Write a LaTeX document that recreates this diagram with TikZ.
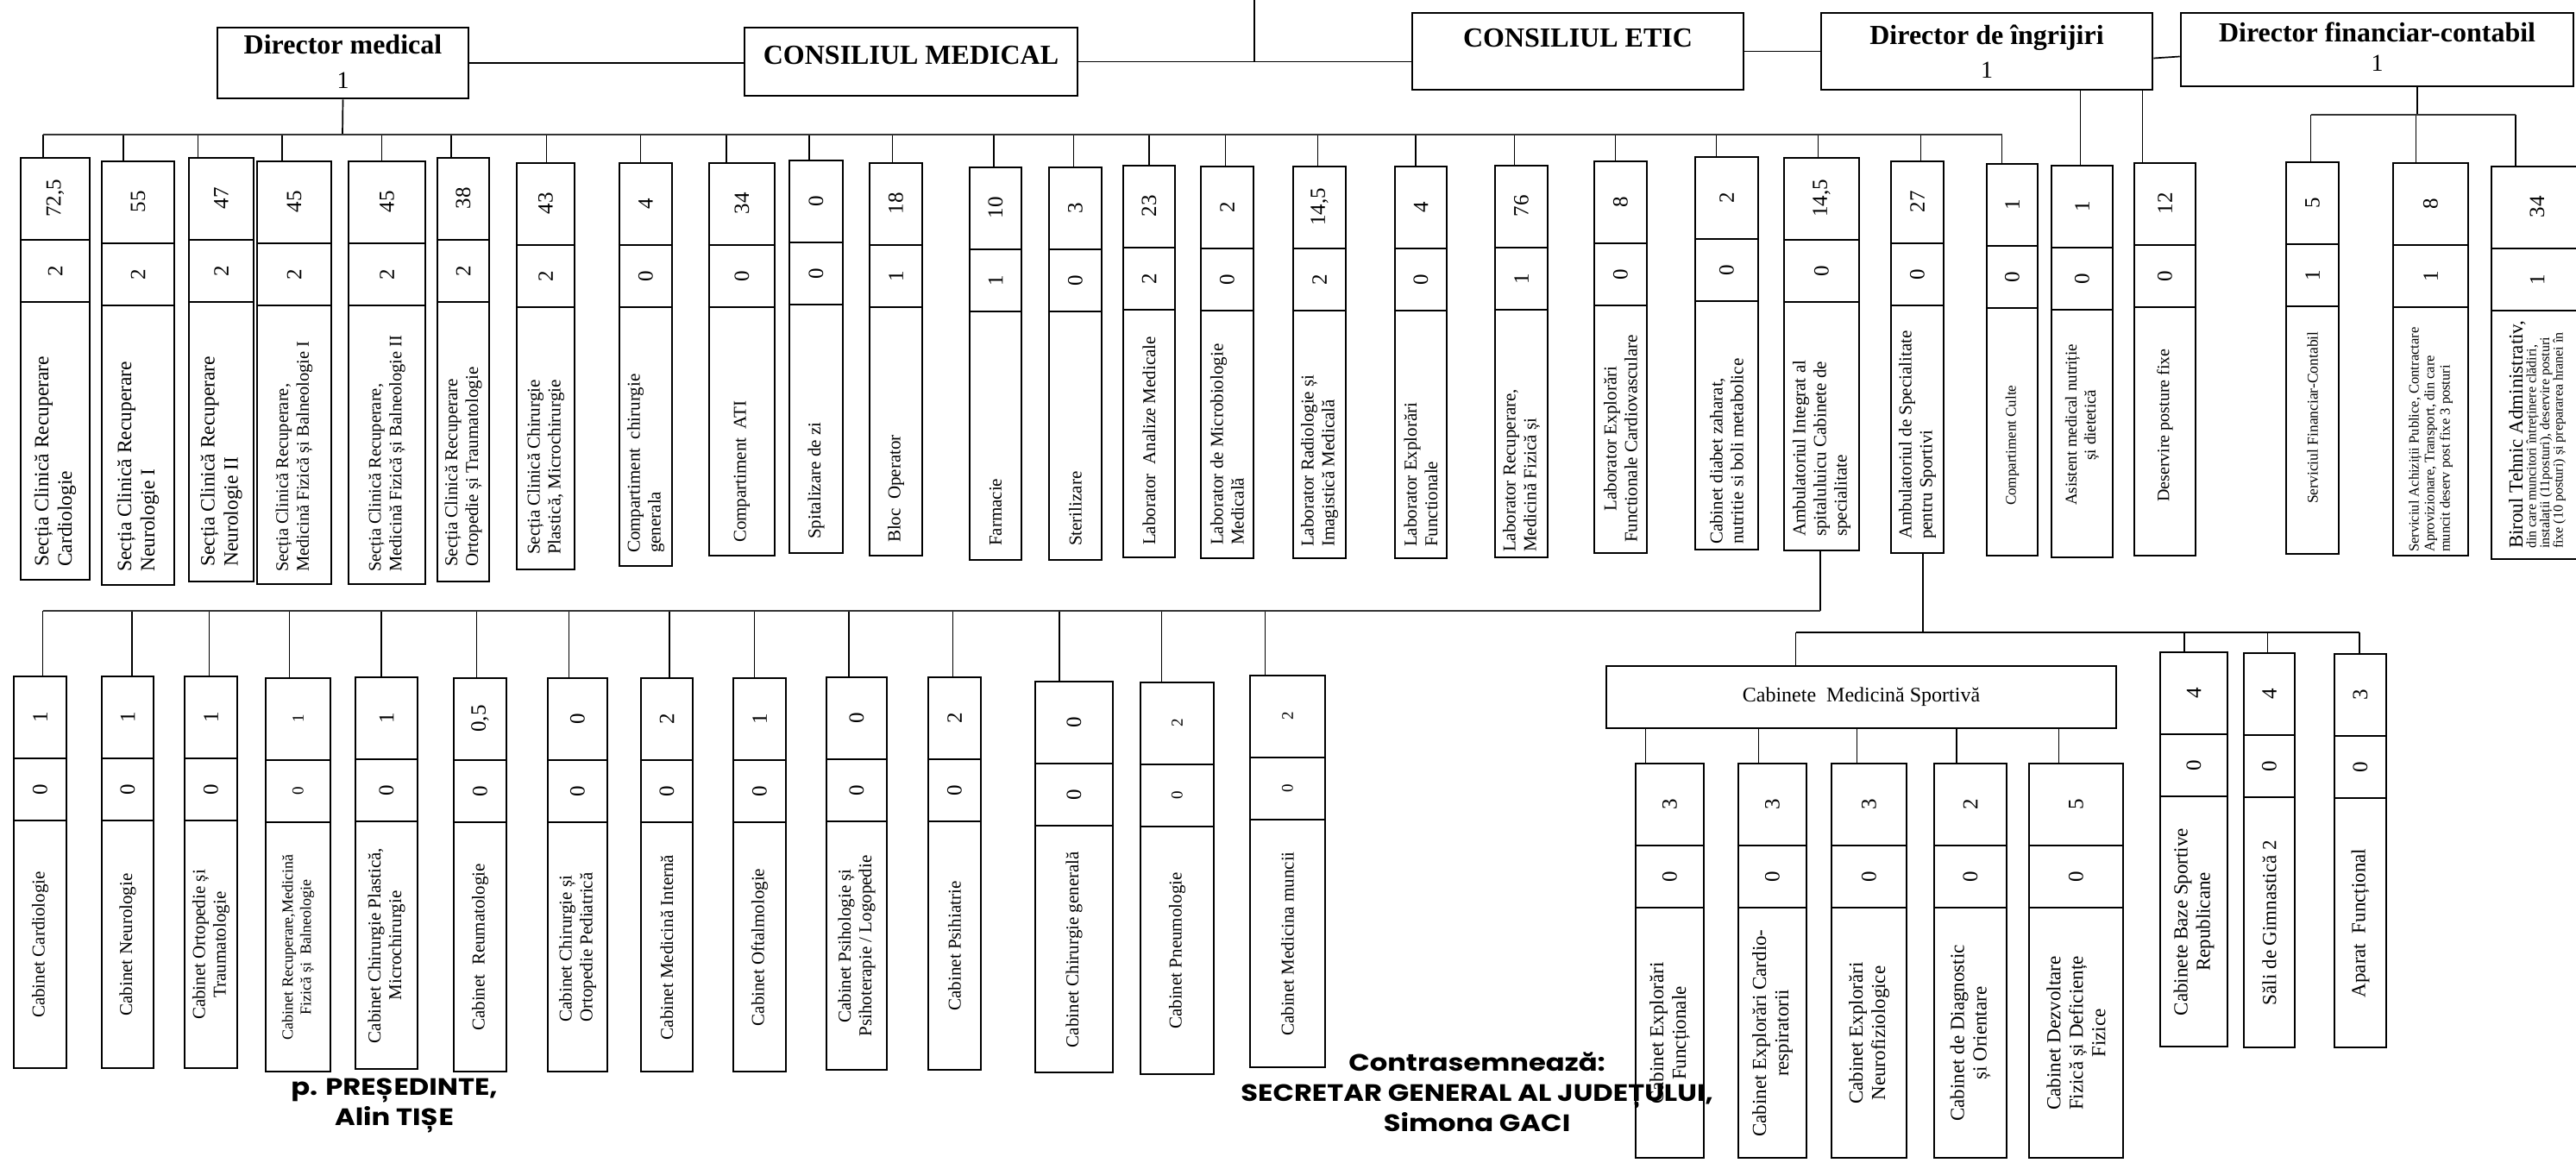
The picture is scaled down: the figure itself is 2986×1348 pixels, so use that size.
\documentclass[tikz,border=0pt]{standalone}
\usepackage{fontspec}
\setmainfont{Liberation Serif}
\newfontfamily\signfont{Poppins}[FakeStretch=1.17]
\usepackage{tikz}
\usetikzlibrary{fit, calc, positioning}
\tikzset{
    secbox/.style={draw, line width=2.2pt, inner sep=0pt},
    headbox/.style={draw, line width=2.6pt, inner sep=0pt},
    cellline/.style={line width=2.2pt},
    link/.style={line width=1.7pt},
    busline/.style={line width=2.8pt, black!80},
    numtxt/.style={rotate=90, inner sep=0pt, font=\fontsize{25}{25}\selectfont},
    lbltxt/.style={rotate=90, inner sep=0pt, align=left, font=\fontsize{21}{24}\selectfont},
    lblbig/.style={font=\fontsize{23.5}{27}\selectfont},
    lblmid/.style={font=\fontsize{20.5}{24}\selectfont},
    lblsport/.style={font=\fontsize{23}{26}\selectfont, align=center},
    headtxt/.style={inner sep=0pt, font=\bfseries\fontsize{32}{36}\selectfont},
    headnum/.style={inner sep=0pt, font=\fontsize{28}{28}\selectfont},
    signtxt/.style={inner sep=0pt, align=center, font=\signfont\bfseries\fontsize{27.5}{35}\selectfont},
}
\newcommand{\smnum}[1]{{\fontsize{19}{19}\selectfont #1}}
% frame with three cells: {name}{corner}{corner}{posts}{heads}
\newcommand{\unitframe}[5]{%
    \node[secbox, fit={#2 #3}] (#1) {};
    \draw[cellline] ([yshift=-96pt]#1.north west) -- ([yshift=-96pt]#1.north east);
    \draw[cellline] ([yshift=-168pt]#1.north west) -- ([yshift=-168pt]#1.north east);
    \node[numtxt] (#1n1) at ([yshift=-48pt]#1.north) {#4};
    \node[numtxt] (#1n2) at ([yshift=-132pt]#1.north) {#5};
}
% label starting near the bottom: [opts]{name}{corner}{corner}{posts}{heads}{lift}{label}
\newcommand{\secunit}[8][]{%
    \unitframe{#2}{#3}{#4}{#5}{#6}
    \coordinate (#2bot) at ([yshift=#7]#2.south);
    \node[lbltxt, anchor=west, #1] (#2t) at (#2bot) {#8};
}
% label centred in the lower cell: [opts]{name}{corner}{corner}{posts}{heads}{label}
\newcommand{\cabunit}[7][]{%
    \unitframe{#2}{#3}{#4}{#5}{#6}
    \coordinate (#2mid) at ($([yshift=-168pt]#2.north)!0.5!(#2.south)$);
    \node[lbltxt, #1] (#2t) at (#2mid) {#7};
}

\begin{document}
\begin{tikzpicture}[x=1pt, y=-1pt]

    \path[use as bounding box, fill=white] (0,0) rectangle (2986,1348);
    \clip (0,0) rectangle (2986,1348);

    % Conducere
    \node[headbox, fit={(252,32) (543,114)}] (dirmed) {};
    \node[headtxt] (dirmedt) at ([yshift=-21pt]dirmed.north) {Director medical};
    \node[headnum] (dirmedn) at ([yshift=-63pt]dirmed.north) {1};
    \node[headbox, fit={(863,32) (1249,111)}] (consmed) {};
    \node[headtxt] (consmedt) at ([yshift=-33pt]consmed.north) {CONSILIUL MEDICAL};
    \node[headbox, fit={(1637,15) (2021,104)}] (consetic) {};
    \node[headtxt] (consetict) at ([yshift=-30pt]consetic.north) {CONSILIUL ETIC};
    \node[headbox, fit={(2111,15) (2495,104)}] (ingr) {};
    \node[headtxt] (ingrt) at ([yshift=-30pt]ingr.north) {Director de îngrijiri};
    \node[headnum] (ingrn) at ([yshift=-68pt]ingr.north) {1};
    \node[headbox, fit={(2528,15) (2983,100)}] (fin) {};
    \node[headtxt] (fint) at ([yshift=-24pt]fin.north) {Director financiar-contabil};
    \node[headnum] (finn) at ([yshift=-60pt]fin.north) {1};

    \coordinate (apex) at (1454,0);
    \coordinate (bus1) at (397,156);
    \coordinate (finbus) at (2802,133);
    \coordinate (bus2) at (2110,708);
    \coordinate (bus3) at (2229,733);

    \draw[link] (dirmed.east) -- (dirmed.east -| consmed.west);
    \draw[link] (consmed.east) -- (consmed.east -| consetic.west);
    \draw[link] (apex) -- (apex |- consmed.east);
    \draw[link] (consetic.east) -- (ingr.west);
    \draw[link] ([yshift=-8pt]ingr.east) -- ([yshift=-8pt]fin.west);

    % Sectii si compartimente
    \secunit[lblbig]{A1}{(24,183)}{(104,672)}{72,5}{2}{16pt}{Secția Clinică Recuperare\\Cardiologie}
    \secunit[lblbig]{A2}{(118,187)}{(202,678)}{55}{2}{16pt}{Secția Clinică Recuperare\\Neurologie I}
    \secunit[lblbig]{A3}{(219,183)}{(294,674)}{47}{2}{18pt}{Secția Clinică Recuperare\\Neurologie II}
    \secunit[lblmid]{A4}{(298,187)}{(384,677)}{45}{2}{15pt}{Secția Clinică Recuperare,\\Medicină Fizică și Balneologie I}
    \secunit[lblmid]{A5}{(404,187)}{(493,677)}{45}{2}{15pt}{Secția Clinică Recuperare,\\Medicină Fizică și Balneologie II}
    \secunit{A6}{(507,183)}{(567,674)}{38}{2}{18pt}{Secția Clinică Recuperare\\Ortopedie și Traumatologie}
    \secunit{A7}{(599,189)}{(666,660)}{43}{2}{18pt}{Secția Clinică Chirurgie\\Plastică, Microchirurgie}
    \secunit{A8}{(718,189)}{(779,656)}{4}{0}{16pt}{Compartiment~ chirurgie\\generala}
    \secunit{A9}{(822,189)}{(898,644)}{34}{0}{16pt}{Compartiment~ ATI}
    \secunit{A10}{(915,186)}{(977,641)}{0}{0}{17pt}{Spitalizare de zi}
    \secunit{A11}{(1008,189)}{(1069,644)}{18}{1}{16pt}{Bloc~ Operator}
    \secunit{A12}{(1124,194)}{(1184,649)}{10}{1}{17pt}{Farmacie}
    \secunit{A13}{(1216,194)}{(1277,649)}{3}{0}{17pt}{Sterilizare}
    \secunit{A14}{(1302,192)}{(1362,646)}{23}{2}{15pt}{Laborator~ Analize Medicale}
    \secunit{A15}{(1392,193)}{(1453,647)}{2}{0}{16pt}{Laborator de Microbiologie\\Medicală}
    \secunit{A16}{(1499,193)}{(1560,647)}{14,5}{2}{14pt}{Laborator Radiologie și\\Imagistică Medicală}
    \secunit{A17}{(1617,193)}{(1677,647)}{4}{0}{14pt}{Laborator Explorări\\Functionale}
    \secunit{A18}{(1733,192)}{(1794,646)}{76}{1}{7pt}{Laborator Recuperare,\\Medicină Fizică și}
    \secunit[align=center]{A19}{(1848,187)}{(1909,641)}{8}{0}{13pt}{Laborator Explorări\\Functionale Cardiovasculare}
    \secunit{A20}{(1965,182)}{(2038,637)}{2}{0}{7pt}{Cabinet diabet zaharat,\\nutritie si boli metabolice}
    \secunit{A21}{(2068,183)}{(2155,638)}{14,5}{0}{17pt}{Ambulatoriul Integrat al\\spitaluluicu Cabinete de\\specialitate}
    \secunit{A22}{(2192,187)}{(2253,641)}{27}{0}{17pt}{Ambulatoriul de Specialitate\\pentru Sportivi}
    \secunit[font=\fontsize{17}{19}\selectfont]{A23}{(2303,190)}{(2362,644)}{1}{0}{59pt}{Compartiment Culte}
    \secunit[align=center, font=\fontsize{19}{22}\selectfont]{A24}{(2378,192)}{(2449,646)}{1}{0}{61pt}{Asistent medical nutriție\\și dietetică}
    \secunit[font=\fontsize{20}{22}\selectfont]{A25}{(2474,189)}{(2545,644)}{12}{0}{63pt}{Deservire posture fixe}
    \secunit[font=\fontsize{17.5}{20}\selectfont]{B1}{(2650,188)}{(2711,642)}{5}{1}{59pt}{Serviciul Financiar-Contabil}
    \secunit[font=\fontsize{16.5}{18}\selectfont]{B2}{(2774,189)}{(2861,644)}{8}{1}{5pt}{Serviciul Achiziții Publice, Contractare\\Aprovizionare, Transport, din care\\muncit deserv post fixe 3 posturi}
    \secunit[font=\fontsize{16}{15.5}\selectfont]{B3}{(2888,193)}{(2994,648)}{34}{1}{13pt}{{\fontsize{23}{24}\selectfont Biroul Tehnic Administrativ,}\\din care muncitori întreținere clădiri,\\instalații (11posturi), deservire posturi\\fixe (10 posturi) și prepararea hranei în}

    \draw[link] (dirmed.south) -- (bus1);
    \foreach \bx/\dx in {A1/-14, A2/-17, A3/-27, A4/-14, A5/-6, A6/-14, A7/1, A8/-6, A9/-18,
        A10/-8, A11/-4, A12/-2, A13/-2, A14/0, A15/-2, A16/-2, A17/-6, A18/-8, A19/-6,
        A20/-12, A21/-4, A22/4, A23/-12}
        \draw[link] ([xshift=\dx pt]\bx.north) -- ([xshift=\dx pt]\bx.north |- bus1);
    \draw[busline] ([xshift=-14pt]A1.north |- bus1) -- ([xshift=-12pt]A23.north |- bus1);

    \foreach \bx/\dx in {A24/-2, A25/-26}
        \draw[link] ([xshift=\dx pt]\bx.north) -- ([xshift=\dx pt]\bx.north |- ingr.south);

    \draw[link] (finbus) -- (finbus |- fin.south);
    \foreach \bx/\dx in {B1/-2, B2/-17, B3/-25}
        \draw[link] ([xshift=\dx pt]\bx.north) -- ([xshift=\dx pt]\bx.north |- finbus);
    \draw[busline] ([xshift=-2pt]B1.north |- finbus) -- ([xshift=-25pt]B3.north |- finbus);

    % Cabinete ambulatoriu
    \cabunit{C1}{(16,784)}{(77,1238)}{1}{0}{Cabinet Cardiologie}
    \cabunit{C2}{(118,784)}{(178,1238)}{1}{0}{Cabinet Neurologie}
    \cabunit[align=center]{C3}{(214,784)}{(275,1238)}{1}{0}{Cabinet Ortopedie și\\Traumatologie}
    \cabunit[align=center, font=\fontsize{18}{21}\selectfont]{C4}{(308,786)}{(383,1242)}{\smnum{1}}{\smnum{0}}{Cabinet Recuperare,Medicină\\Fizică și~ Balneologie}
    \cabunit[align=center]{C5}{(412,785)}{(484,1239)}{1}{0}{Cabinet Chirurgie Plastică,\\Microchirurgie}
    \cabunit{C6}{(526,786)}{(587,1242)}{0,5}{0}{Cabinet~ Reumatologie}
    \cabunit{C7}{(635,786)}{(704,1242)}{0}{0}{Cabinet Chirurgie și\\Ortopedie Pediatrică}
    \cabunit{C8}{(743,786)}{(803,1242)}{2}{0}{Cabinet Medicină Internă}
    \cabunit{C9}{(850,786)}{(911,1242)}{1}{0}{Cabinet Oftalmologie}
    \cabunit[align=center]{C10}{(958,785)}{(1028,1240)}{0}{0}{Cabinet Psihologie și\\Psihoterapie / Logopedie}
    \cabunit{C11}{(1076,785)}{(1137,1240)}{2}{0}{Cabinet Psihiatrie}
    \cabunit{C12}{(1200,790)}{(1290,1243)}{0}{0}{Cabinet Chirurgie generală}
    \cabunit{C13}{(1322,791)}{(1407,1245)}{\smnum{2}}{\smnum{0}}{Cabinet Pneumologie}
    \cabunit{C14}{(1449,783)}{(1536,1237)}{\smnum{2}}{\smnum{0}}{Cabinet Medicina muncii}

    \draw[link] ([xshift=-1.5pt]A21.south) -- ([xshift=-1.5pt]A21.south |- bus2);
    \foreach \bx/\dx in {C1/3, C2/5, C3/-2, C4/-10, C5/-6, C6/-4, C7/-10, C8/3, C9/-6,
        C10/-9, C11/-2, C12/-17, C13/-18, C14/-26}
        \draw[link] ([xshift=\dx pt]\bx.north) -- ([xshift=\dx pt]\bx.north |- bus2);
    \draw[busline] ([xshift=3pt]C1.north |- bus2) -- ([xshift=-1.5pt]A21.south |- bus2);

    % Medicina sportiva
    \node[secbox, minimum width=591pt, minimum height=72pt, font=\fontsize{24}{24}\selectfont] (D0) at (2157.5,808) {Cabinete~ Medicină Sportivă};
    \cabunit[lblsport]{D1}{(1896,885)}{(1975,1342)}{3}{0}{Cabinet Explorări\\Funcționale}
    \cabunit[lblsport]{D2}{(2015,885)}{(2094,1342)}{3}{0}{Cabinet Explorări Cardio-\\respiratorii}
    \cabunit[lblsport]{D3}{(2123,885)}{(2210,1342)}{3}{0}{Cabinet Explorări\\Neurofiziologice}
    \cabunit[lblsport]{D4}{(2242,885)}{(2326,1342)}{2}{0}{Cabinet de Diagnostic\\și Orientare}
    \cabunit[lblsport]{D5}{(2352,885)}{(2461,1342)}{5}{0}{Cabinet Dezvoltare\\Fizică și Deficiențe\\Fizice}
    \cabunit[lblsport]{D6}{(2504,756)}{(2582,1213)}{4}{0}{Cabinete Baze Sportive\\Republicane}
    \cabunit[lblsport]{D7}{(2601,757)}{(2660,1214)}{4}{0}{Săli de Gimnastică 2}
    \cabunit[lblsport]{D8}{(2706,758)}{(2766,1214)}{3}{0}{Aparat~ Funcțional}

    \draw[link] ([xshift=6.5pt]A22.south) -- ([xshift=6.5pt]A22.south |- bus3);
    \foreach \bx/\dx in {D0/-76, D6/-11, D7/-2, D8/-1}
        \draw[link] ([xshift=\dx pt]\bx.north) -- ([xshift=\dx pt]\bx.north |- bus3);
    \draw[link] ([xshift=-76pt]D0.north |- bus3) -- ([xshift=-1pt]D8.north |- bus3);
    \foreach \bx/\dx in {D1/-28, D2/-16, D3/-14, D4/-16, D5/-20}
        \draw[link] ([xshift=\dx pt]\bx.north) -- ([xshift=\dx pt]\bx.north |- D0.south);

    % Semnaturi
    \node[signtxt] (pres) at (457,1281) {p. PREȘEDINTE,\\Alin TIȘE};
    \node[signtxt] (secr) at (1712,1266) {Contrasemnează:\\SECRETAR GENERAL AL JUDEȚULUI,\\Simona GACI};

\end{tikzpicture}
\end{document}
